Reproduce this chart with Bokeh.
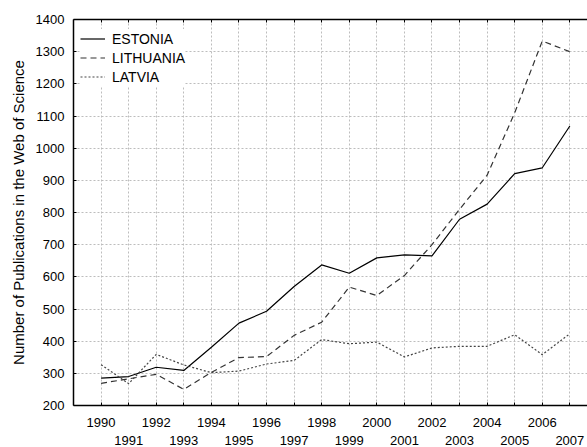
from bokeh.plotting import figure
from bokeh.models import Range1d, LinearAxis, FixedTicker
from bokeh.embed import file_html
from bokeh.resources import INLINE

# ---- data ----
years = [1990, 1991, 1992, 1993, 1994, 1995, 1996, 1997, 1998,
         1999, 2000, 2001, 2002, 2003, 2004, 2005, 2006, 2007]
estonia = [285, 290, 319, 309, 381, 456, 493, 570, 637,
           611, 659, 668, 665, 779, 826, 921, 939, 1069]
lithuania = [269, 283, 297, 250, 303, 349, 352, 418, 459,
             568, 542, 604, 700, 810, 916, 1110, 1333, 1300]
latvia = [327, 268, 359, 326, 302, 307, 329, 340, 405,
          392, 397, 351, 379, 384, 384, 420, 358, 423]
even_years = [1990, 1992, 1994, 1996, 1998, 2000, 2002, 2004, 2006]
odd_years = [1991, 1993, 1995, 1997, 1999, 2001, 2003, 2005, 2007]
y_ticks = [200, 300, 400, 500, 600, 700, 800, 900, 1000, 1100, 1200, 1300, 1400]
y_title = "Number of Publications in the Web of Science"

FONT = "Liberation Sans"

p = figure(frame_width=514, frame_height=386,
           x_range=Range1d(1989, 2007.64), y_range=Range1d(200, 1400),
           output_backend="svg", toolbar_location=None,
           min_border_left=73, min_border_right=0,
           min_border_top=19, min_border_bottom=42)
p.outline_line_color = None
p.background_fill_color = "white"
p.border_fill_color = "white"

# grid
p.xgrid.ticker = FixedTicker(ticks=years)
p.ygrid.ticker = FixedTicker(ticks=y_ticks)
for g in (p.xgrid, p.ygrid):
    g.grid_line_color = "#bdbdbd"
    g.grid_line_dash = "2 2"
    g.grid_line_width = 1

# left axis
ya = p.yaxis[0]
ya.ticker = FixedTicker(ticks=y_ticks)
ya.major_tick_in = 3
ya.major_tick_out = 0
ya.minor_tick_line_color = None
ya.major_label_standoff = 9
ya.major_label_text_font = FONT
ya.major_label_text_font_size = "13px"
ya.major_label_text_color = "black"
ya.axis_line_color = "black"
ya.axis_line_width = 1.5
ya.major_tick_line_color = "black"
ya.axis_label = y_title
ya.axis_label_text_font = FONT
ya.axis_label_text_font_size = "15px"
ya.axis_label_text_font_style = "normal"
ya.axis_label_text_color = "black"
ya.axis_label_standoff = 6

# bottom axis: even-year labels, ticks at every year (odd ones as minor ticks)
xa = p.xaxis[0]
xa.ticker = FixedTicker(ticks=even_years, minor_ticks=odd_years)
xa.major_tick_in = 3
xa.major_tick_out = 0
xa.minor_tick_in = 3
xa.minor_tick_out = 0
xa.minor_tick_line_color = "black"
xa.major_tick_line_color = "black"
xa.major_label_standoff = 12
xa.major_label_text_font = FONT
xa.major_label_text_font_size = "13px"
xa.major_label_text_color = "black"
xa.axis_line_color = "black"
xa.axis_line_width = 1.5
xa.axis_label_standoff = 0

# second row of bottom labels (odd years)
xa2 = LinearAxis(ticker=FixedTicker(ticks=odd_years))
xa2.axis_line_color = None
xa2.major_tick_line_color = None
xa2.minor_tick_line_color = None
xa2.major_label_standoff = 0
xa2.major_label_text_font = FONT
xa2.major_label_text_font_size = "13px"
xa2.major_label_text_color = "black"
xa2.axis_label_standoff = 0
p.add_layout(xa2, "below")

# top frame line with inward ticks (minor ticks only, so no labels)
xt = LinearAxis(ticker=FixedTicker(ticks=[], minor_ticks=years))
xt.major_tick_line_color = None
xt.minor_tick_in = 3
xt.minor_tick_out = 0
xt.minor_tick_line_color = "black"
xt.major_label_standoff = 0
xt.axis_label_standoff = 0
xt.axis_line_color = "black"
xt.axis_line_width = 1.5
p.add_layout(xt, "above")

# series
p.line(years, estonia, line_color="black", line_width=1.2, legend_label="ESTONIA")
p.line(years, lithuania, line_color="#333333", line_width=1.2, line_dash="6 4",
       legend_label="LITHUANIA")
p.line(years, latvia, line_color="#444444", line_width=1.2, line_dash="2 2",
       legend_label="LATVIA")

leg = p.legend[0]
leg.location = (7, 319)
leg.padding = 0
leg.margin = 0
leg.spacing = 0
leg.glyph_width = 25
leg.glyph_height = 19
leg.label_height = 19
leg.label_standoff = 7
leg.label_text_font = FONT
leg.label_text_font_size = "14px"
leg.label_text_color = "black"
leg.border_line_color = None
leg.background_fill_color = "white"
leg.background_fill_alpha = 1.0

open("out.html", "w").write(file_html(p, INLINE))
